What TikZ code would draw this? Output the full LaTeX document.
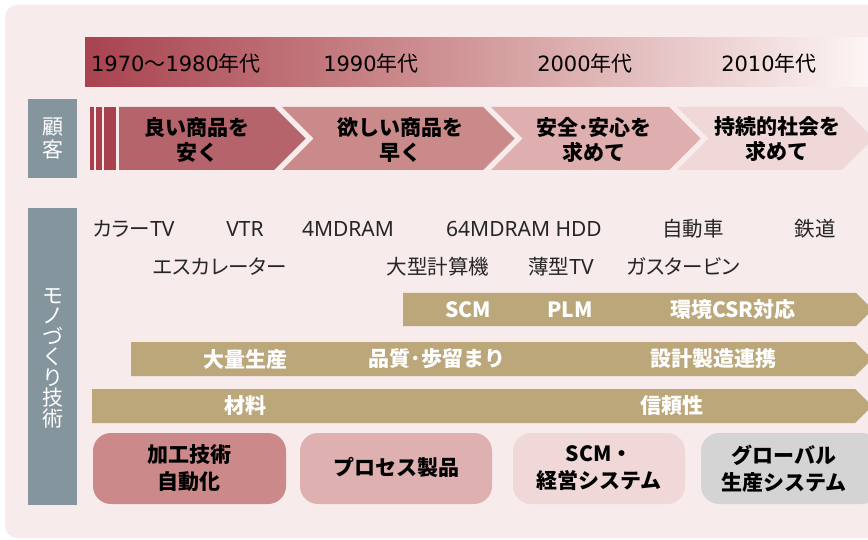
\documentclass[tikz,border=0pt]{standalone}
\usepackage{fontspec}
\setmainfont{Noto Sans CJK JP}
\newfontfamily\jpp[RawFeature=+palt]{Noto Sans CJK JP}
\newfontfamily\latf{Noto Sans}
\newfontfamily\digf{DejaVu Sans}
\newcommand\mylat[1]{{\latf\fontsize{21}{21}\selectfont #1}}
\newcommand\mydig[1]{{\digf #1}}
\definecolor{bgc}{HTML}{F7EBEC}
\definecolor{grayc}{HTML}{85959D}
\definecolor{tanc}{HTML}{BCA77B}
\definecolor{stripec}{HTML}{A8414D}
\definecolor{chA}{HTML}{B6646B}
\definecolor{chB}{HTML}{CB8A8A}
\definecolor{chC}{HTML}{DFAFAF}
\definecolor{chD}{HTML}{F0D8D8}
\definecolor{bxA}{HTML}{CC8989}
\definecolor{bxB}{HTML}{DFB0B0}
\definecolor{bxC}{HTML}{F0D8D8}
\definecolor{bxD}{HTML}{D5D4D4}
\definecolor{barL}{HTML}{A8434F}
\definecolor{barM}{HTML}{D39A9B}
\definecolor{barR}{HTML}{FDF5F5}
\tikzset{
  year/.style={font=\fontsize{21}{23}\selectfont, text=black, inner sep=0pt},
  chtext/.style={font=\fontsize{21}{25}\selectfont\bfseries, align=center, text=black, inner sep=0pt},
  prod/.style={font=\jpp\fontsize{20.5}{22}\selectfont, text=black!85, inner sep=0pt},
  arrtext/.style={font=\fontsize{21}{22}\selectfont\bfseries, text=white, inner sep=0pt},
  boxtext/.style={font=\fontsize{21}{27}\selectfont\bfseries, align=center, text=black, inner sep=0pt},
  vlabel/.style={font=\fontsize{21}{20.5}\selectfont, align=center, text=white, inner sep=0pt},
  rbox/.style={rounded corners=18pt},
}
\begin{document}
\begin{tikzpicture}[x=1pt,y=-1pt]
\useasboundingbox (0,0) rectangle (868,540);
\begin{scope}
\clip (0,0) rectangle (868,540);
\fill[white] (0,0) rectangle (868,540);
% background panel
\fill[bgc, rounded corners=12pt] (5,5) rectangle (890,538);
% top gradient bar
\shade[left color=barL, right color=barM] (85,38) rectangle (480,87);
\shade[left color=barM, right color=barR] (480,38) rectangle (868,87);
\node[year] (y1) at (176,64) {\mydig{1970}～\mydig{1980}年代};
\node[year] (y2) at (371,64) {\mydig{1990}年代};
\node[year] (y3) at (585,64) {\mydig{2000}年代};
\node[year] (y4) at (769,64) {\mydig{2010}年代};
% left gray labels
\fill[grayc] (28,99) rectangle (77,178);
\node[vlabel, font=\fontsize{21}{23}\selectfont] (cust) at (52.5,139) {顧\\客};
\fill[grayc] (28,208) rectangle (77,505);
\node[vlabel] (mono) at (52.5,358) {モ\\ノ\\づ\\く\\り\\技\\術};
% stripes
\fill[stripec] (90,107) rectangle (94,170);
\fill[stripec] (96,107) rectangle (102,170);
\fill[stripec] (104,107) rectangle (116,170);
% chevrons
\fill[chA] (119,107) -- (274,107) -- (305.5,138.5) -- (274,170) -- (119,170) -- cycle;
\fill[chB] (282,107) -- (483,107) -- (514.5,138.5) -- (483,170) -- (282,170) -- (313.5,138.5) -- cycle;
\fill[chC] (491,107) -- (669,107) -- (700.5,138.5) -- (669,170) -- (491,170) -- (522.5,138.5) -- cycle;
\fill[chD] (677,107) -- (842,107) -- (873.5,138.5) -- (842,170) -- (677,170) -- (708.5,138.5) -- cycle;
\node[chtext] (c1) at (197,139.5) {良い商品を\\安く};
\node[chtext] (c2) at (400,139.5) {欲しい商品を\\早く};
\node[chtext] (c3) at (594,139.5) {安全･安心を\\求めて};
\node[chtext] (c4) at (777,139.5) {持続的社会を\\求めて};
% products
\node[prod] (p1) at (134,229) {カラー\mylat{TV}};
\node[prod] (p2) at (245,229) {\mylat{VTR}};
\node[prod] (p3) at (348,229) {\mylat{4MDRAM}};
\node[prod] (p4) at (524,229) {\mylat{64MDRAM HDD}};
\node[prod] (p5) at (693,229) {自動車};
\node[prod] (p6) at (815,229) {鉄道};
\node[prod] (q1) at (220,267) {エスカレーター};
\node[prod] (q2) at (438,267) {大型計算機};
\node[prod] (q3) at (561,267) {薄型\mylat{TV}};
\node[prod] (q4) at (683,267) {ガスタービン};
% tan arrows
\fill[tanc] (403,293) -- (856,293) -- (872.5,309.5) -- (856,326) -- (403,326) -- cycle;
\fill[tanc] (131,342) -- (855,342) -- (872,359) -- (855,376) -- (131,376) -- cycle;
\fill[tanc] (92,389) -- (855,389) -- (872,406) -- (855,423) -- (92,423) -- cycle;
\node[arrtext] (a1) at (468,310) {SCM};
\node[arrtext] (a2) at (570,310) {PLM};
\node[arrtext] (a3) at (733,310) {環境CSR対応};
\node[arrtext] (b1) at (245,359) {大量生産};
\node[arrtext] (b2) at (437,359) {品質･歩留まり};
\node[arrtext] (b3) at (713,359) {設計製造連携};
\node[arrtext] (m1) at (245,406) {材料};
\node[arrtext] (m2) at (672,406) {信頼性};
% bottom boxes
\fill[bxA, rbox] (93,433) rectangle (286,504);
\fill[bxB, rbox] (300,433) rectangle (492,504);
\fill[bxC, rbox] (513,433) rectangle (685,504);
\fill[bxD, rbox] (701,433) rectangle (880,504);
\node[boxtext] (k1) at (189,468.5) {加工技術\\自動化};
\node[boxtext] (k2) at (396,467.5) {プロセス製品};
\node[boxtext] (k3) at (599,468.5) {SCM・\\経営システム};
\node[boxtext] (k4) at (784,468.5) {グローバル\\生産システム};
\end{scope}
\end{tikzpicture}
\end{document}
